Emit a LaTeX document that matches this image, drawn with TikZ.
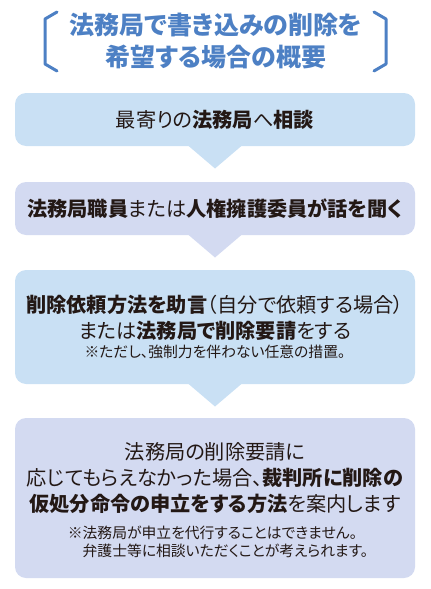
\documentclass[tikz,border=0pt]{standalone}
\usepackage{fontspec}
\setmainfont{Noto Sans CJK JP}[RawFeature=+palt]
\usetikzlibrary{positioning}
\definecolor{ctitle}{HTML}{4D80C4}
\definecolor{ctext}{HTML}{231815}
\definecolor{cblue}{HTML}{C9E0F4}
\definecolor{clav}{HTML}{D3DAF1}
\tikzset{
  every picture/.style={line width=1pt},
  box/.style={fill=#1, rounded corners=11pt, minimum width=400pt, align=center, inner sep=0pt,
    text=ctext, font=\fontsize{20.2}{26.3}\selectfont},
  box/.default=cblue,
  pointer/.style={fill=#1, draw=none},
  bracket/.style={draw=ctitle, line width=3pt, line cap=round, line join=round},
  title/.style={font=\bfseries\fontsize{25}{32}\selectfont, text=ctitle, align=center},
}
\newcommand\notesize{\fontsize{14.8}{18}\selectfont}
\begin{document}
\begin{tikzpicture}[x=1pt, y=-1pt]
  \useasboundingbox (0,0) rectangle (431,589);
  % ---------- title ----------
  \node[title] (ttl) at (216, 41) {法務局で書き込みの削除を\\希望する場合の概要};
  \draw[bracket] (57,12) -- (45,19) -- (45,64) -- (57,71);
  \draw[bracket] (374,12) -- (386,19) -- (386,64) -- (374,71);
  % ---------- steps ----------
  \node[box=cblue, minimum height=53pt] (s1) at (215, 119.5)
    {最寄りの\textbf{法務局}へ\textbf{相談}};
  \node[box=clav, minimum height=53pt] (s2) at (215, 208.5)
    {\textbf{法務局職員}または\textbf{人権擁護委員が話を聞く}};
  \node[box=cblue, minimum height=114pt] (s3) at (215, 327)
    {\textbf{削除依頼方法を助言}（自分で依頼する場合）\\
     または\textbf{法務局で削除要請}をする\\[-7pt]
     {\notesize ※ただし、強制力を伴わない任意の措置。}};
  \node[box=clav, minimum height=160pt] (s4) at (215, 498)
    {\rule{0pt}{25pt}法務局の削除要請に\\
     応じてもらえなかった場合、\textbf{裁判所に削除の}\\
     \textbf{仮処分命令の申立をする方法}を案内します\\[9pt]
     \hspace*{6pt}{\notesize\begin{tabular}{@{}l@{}}
       ※法務局が申立を代行することはできません。\\
       \hspace*{1em}弁護士等に相談いただくことが考えられます。
     \end{tabular}}};
  % ---------- pointers ----------
  \foreach \a/\c in {s1/cblue, s2/clav, s3/cblue}
    \fill[pointer=\c] ([xshift=-27pt, yshift=1pt]\a.south) -- ([xshift=27pt, yshift=1pt]\a.south)
      -- ([yshift=-22pt]\a.south) -- cycle;
\end{tikzpicture}
\end{document}
